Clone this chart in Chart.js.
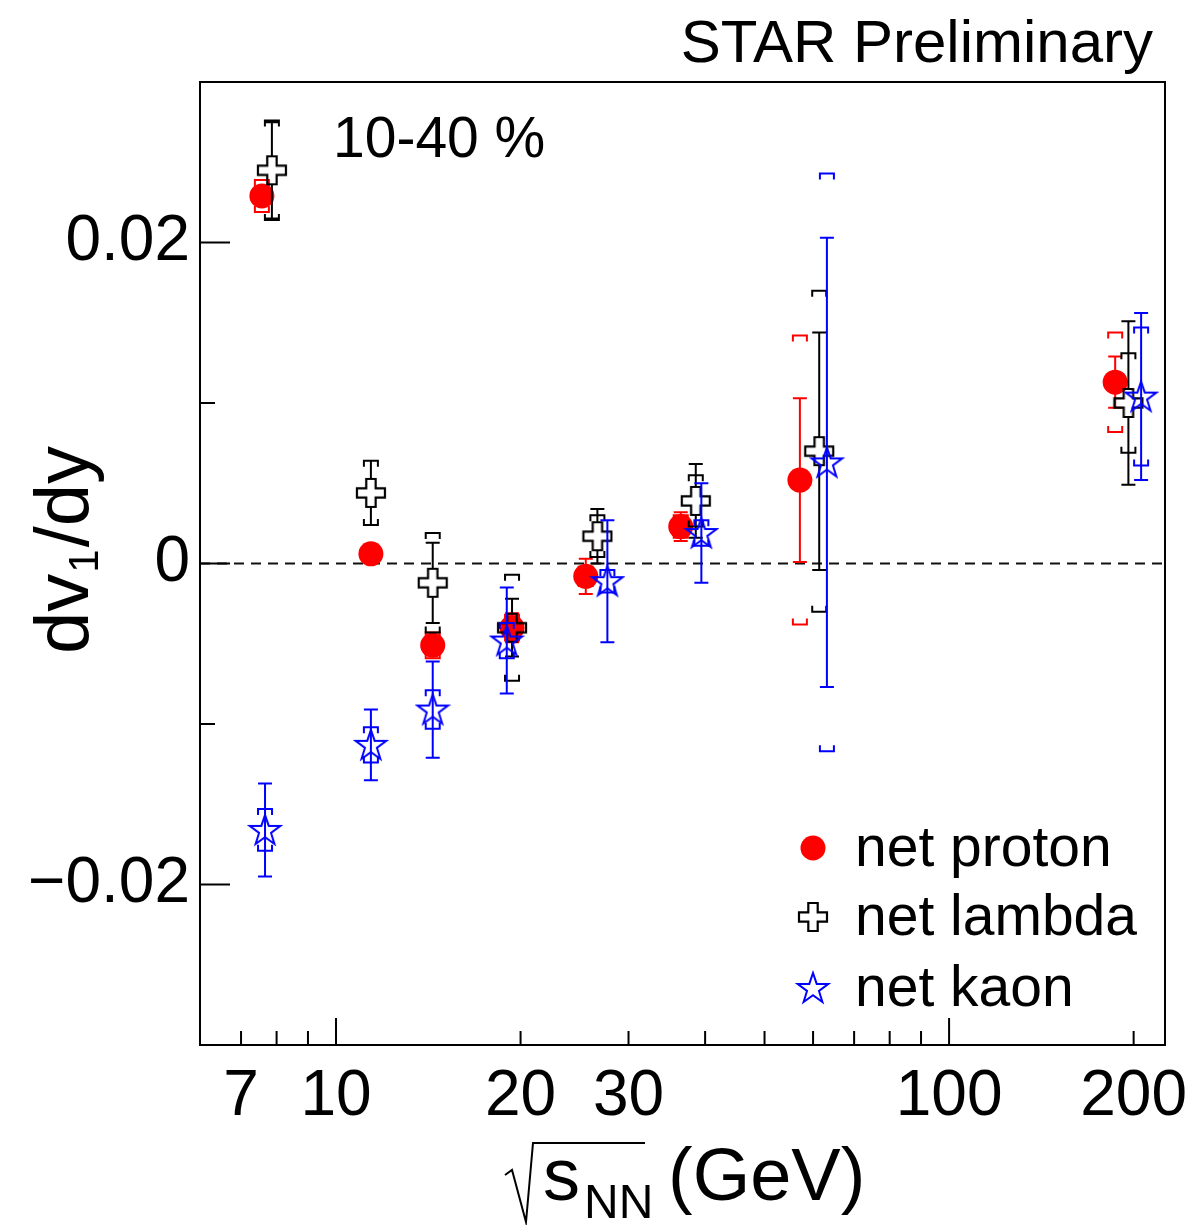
<!DOCTYPE html>
<html>
<head>
<meta charset="utf-8">
<script src="https://cdn.jsdelivr.net/npm/chart.js@4.4.1/dist/chart.umd.min.js"></script>
<style>
  html, body { margin: 0; padding: 0; background: #fff; }
  #wrap { width: 1190px; height: 1225px; }
</style>
</head>
<body>
<div id="wrap"><canvas id="chart" width="1190" height="1225"></canvas></div>
<script>
// ===== Data =====
// x = beam energy in GeV, each species nudged sideways like in the original
const protonX = [7.57, 11.4, 14.38, 19.37, 25.55, 36.5, 57.1, 186.6];
const protonY = [0.0229, 0.0006, -0.0051, -0.0040, -0.0008, 0.0023, 0.0052, 0.0113];
const protonStat = [0.0005, 0.0004, 0.0005, 0.0009, 0.0011, 0.0009, 0.0051, 0.0016];
const protonSys = [0.0010, 0.0004, 0.0008, 0.0008, 0.0006, 0.0007, 0.0090, 0.0031];

const lambdaX = [7.86, 11.4, 14.38, 19.37, 26.69, 38.62, 61.4, 196.1];
const lambdaY = [0.0245, 0.0044, -0.0012, -0.0040, 0.0017, 0.0039, 0.0070, 0.0100];
const lambdaStat = [0.0030, 0.0020, 0.0025, 0.0018, 0.0017, 0.0023, 0.0074, 0.0051];
const lambdaSys = [0.0031, 0.0020, 0.0031, 0.0033, 0.0013, 0.0016, 0.0100, 0.0031];

const kaonX = [7.66, 11.4, 14.38, 18.99, 27.71, 39.44, 63.2, 205.7];
const kaonY = [-0.0166, -0.0113, -0.0091, -0.0048, -0.0011, 0.0019, 0.0063, 0.0104];
const kaonStat = [0.0029, 0.0022, 0.0030, 0.0033, 0.0038, 0.0031, 0.0140, 0.0052];
const kaonSys = [0.0013, 0.0011, 0.0012, 0.0011, 0.0007, 0.0008, 0.0180, 0.0043];

const seriesNames = ['net proton', 'net lambda', 'net kaon'];

const xTickLabels = [7, 10, 20, 30, 100, 200];
const xMajorTicks = [10, 100];
const xMinorTicks = [7, 8, 9, 20, 30, 40, 50, 60, 70, 80, 90, 200];
const yTickValues = [-0.02, 0, 0.02];
const yTickLabels = ['\u22120.02', '0', '0.02'];
const yMinorTicks = [-0.01, 0.01];

const FONT = '"Liberation Sans", Arial, Helvetica, sans-serif';
Chart.defaults.font.family = FONT;

// ===== Marker images =====
function makeCross() {
  const c = document.createElement('canvas');
  c.width = 32; c.height = 32;
  const g = c.getContext('2d');
  const s = 14, a = 4.7;
  const pts = [[-a, -s], [a, -s], [a, -a], [s, -a], [s, a], [a, a], [a, s], [-a, s], [-a, a], [-s, a], [-s, -a], [-a, -a]];
  g.translate(16, 16);
  g.beginPath();
  pts.forEach(([px, py], i) => (i ? g.lineTo(px, py) : g.moveTo(px, py)));
  g.closePath();
  g.lineWidth = 2.2;
  g.strokeStyle = '#000';
  g.stroke();
  return c;
}

function makeStar() {
  const c = document.createElement('canvas');
  c.width = 36; c.height = 36;
  const g = c.getContext('2d');
  const R = 16, r = 6.3;
  g.translate(18, 19);
  g.beginPath();
  for (let i = 0; i < 10; i++) {
    const ang = -Math.PI / 2 + (i * Math.PI) / 5;
    const rad = i % 2 ? r : R;
    const px = rad * Math.cos(ang), py = rad * Math.sin(ang);
    i ? g.lineTo(px, py) : g.moveTo(px, py);
  }
  g.closePath();
  g.lineWidth = 2;
  g.strokeStyle = '#0000ff';
  g.stroke();
  return c;
}

const crossImg = makeCross();
const starImg = makeStar();

const toPoints = (xs, ys) => xs.map((x, i) => ({ x, y: ys[i] }));

// ===== Error bars, frame, ticks and texts =====
function drawErrors(chart, ds) {
  const { ctx } = chart;
  const x = chart.scales.x, y = chart.scales.y;
  const gap = ds.errGap || 0;
  ctx.save();
  ctx.strokeStyle = ds.errColor;
  ctx.lineWidth = 2;
  ds.data.forEach((p, i) => {
    const px = x.getPixelForValue(p.x);
    const py = y.getPixelForValue(p.y);
    const top = y.getPixelForValue(p.y + ds.statErr[i]);
    const bot = y.getPixelForValue(p.y - ds.statErr[i]);
    ctx.beginPath();
    if (py - top > gap) {
      ctx.moveTo(px, top); ctx.lineTo(px, py - gap);
      ctx.moveTo(px - 7, top); ctx.lineTo(px + 7, top);
    }
    if (bot - py > gap) {
      ctx.moveTo(px, py + gap); ctx.lineTo(px, bot);
      ctx.moveTo(px - 7, bot); ctx.lineTo(px + 7, bot);
    }
    // systematic brackets
    const sTop = y.getPixelForValue(p.y + ds.sysErr[i]);
    const sBot = y.getPixelForValue(p.y - ds.sysErr[i]);
    ctx.moveTo(px - 7, sTop + 6); ctx.lineTo(px - 7, sTop); ctx.lineTo(px + 7, sTop); ctx.lineTo(px + 7, sTop + 6);
    ctx.moveTo(px - 7, sBot - 6); ctx.lineTo(px - 7, sBot); ctx.lineTo(px + 7, sBot); ctx.lineTo(px + 7, sBot - 6);
    ctx.stroke();
  });
  ctx.restore();
}

const decor = {
  id: 'decor',
  beforeDatasetsDraw(chart) {
    const { ctx, chartArea } = chart;
    const y0 = chart.scales.y.getPixelForValue(0);
    ctx.save();
    ctx.strokeStyle = '#111';
    ctx.lineWidth = 2;
    ctx.setLineDash([10, 7]);
    ctx.beginPath();
    ctx.moveTo(chartArea.left, y0);
    ctx.lineTo(chartArea.right, y0);
    ctx.stroke();
    ctx.restore();
  },
  beforeDatasetDraw(chart, args) {
    drawErrors(chart, chart.data.datasets[args.index]);
  },
  afterDraw(chart) {
    const { ctx, chartArea } = chart;
    const { left, right, top, bottom } = chartArea;
    const x = chart.scales.x, y = chart.scales.y;
    ctx.save();
    ctx.strokeStyle = '#000';
    ctx.lineWidth = 2;
    ctx.strokeRect(left, top, right - left, bottom - top);

    // ticks inside the frame
    ctx.beginPath();
    xMajorTicks.forEach((v) => { const p = x.getPixelForValue(v); ctx.moveTo(p, bottom); ctx.lineTo(p, bottom - 27); });
    xMinorTicks.forEach((v) => { const p = x.getPixelForValue(v); ctx.moveTo(p, bottom); ctx.lineTo(p, bottom - 14); });
    yTickValues.forEach((v) => { const p = y.getPixelForValue(v); ctx.moveTo(left, p); ctx.lineTo(left + 30, p); });
    yMinorTicks.forEach((v) => { const p = y.getPixelForValue(v); ctx.moveTo(left, p); ctx.lineTo(left + 15, p); });
    ctx.stroke();

    ctx.fillStyle = '#000';
    ctx.textBaseline = 'alphabetic';

    // header and centrality label
    ctx.font = '60px ' + FONT;
    ctx.textAlign = 'right';
    ctx.fillText('STAR Preliminary', 1153, 62);
    ctx.font = '57px ' + FONT;
    ctx.textAlign = 'left';
    ctx.fillText('10-40 %', 333, 157);

    // y title: dv1/dy (rotated)
    ctx.save();
    ctx.translate(88, 654);
    ctx.rotate(-Math.PI / 2);
    ctx.textAlign = 'left';
    ctx.font = '76px ' + FONT;
    ctx.fillText('dv', 0, 0);
    let w = ctx.measureText('dv').width;
    ctx.font = '42px ' + FONT;
    ctx.fillText('1', w + 1, 10);
    w += ctx.measureText('1').width + 3;
    ctx.font = '76px ' + FONT;
    ctx.fillText('/dy', w, 0);
    ctx.restore();

    // x title: sqrt(s_NN) (GeV)
    ctx.beginPath();
    ctx.lineWidth = 2;
    ctx.moveTo(505, 1175);
    ctx.lineTo(512, 1170);
    ctx.lineTo(526, 1222);
    ctx.lineTo(533, 1143);
    ctx.lineTo(645, 1143);
    ctx.stroke();
    ctx.font = '74px ' + FONT;
    ctx.textAlign = 'left';
    ctx.fillText('s', 543, 1200);
    ctx.font = '48px ' + FONT;
    ctx.fillText('NN', 584, 1218);
    ctx.font = '74px ' + FONT;
    ctx.fillText('(GeV)', 668, 1200);

    // legend
    const rows = [848, 917, 988];
    chart.data.datasets.forEach((ds, i) => {
      const cy = rows[i], cx = 813;
      if (ds.pointStyle === 'circle') {
        ctx.fillStyle = ds.backgroundColor;
        ctx.beginPath();
        ctx.arc(cx, cy, 12.5, 0, Math.PI * 2);
        ctx.fill();
      } else {
        const img = ds.pointStyle;
        ctx.drawImage(img, cx - img.width / 2, cy - img.height / 2);
      }
      ctx.fillStyle = '#000';
      ctx.font = '57px ' + FONT;
      ctx.textAlign = 'left';
      ctx.textBaseline = 'middle';
      ctx.fillText(ds.label, 855, cy + 2);
    });
    ctx.restore();
  },
};

// ===== Chart =====
new Chart(document.getElementById('chart'), {
  type: 'scatter',
  data: {
    datasets: [
      {
        label: seriesNames[0],
        data: toPoints(protonX, protonY),
        statErr: protonStat,
        sysErr: protonSys,
        errColor: '#ff0000',
        errGap: 0,
        pointStyle: 'circle',
        pointRadius: 12.5,
        pointHoverRadius: 12.5,
        backgroundColor: '#ff0000',
        borderWidth: 0,
        order: 3,
      },
      {
        label: seriesNames[1],
        data: toPoints(lambdaX, lambdaY),
        statErr: lambdaStat,
        sysErr: lambdaSys,
        errColor: '#000000',
        errGap: 14,
        pointStyle: crossImg,
        order: 2,
      },
      {
        label: seriesNames[2],
        data: toPoints(kaonX, kaonY),
        statErr: kaonStat,
        sysErr: kaonSys,
        errColor: '#0000ff',
        errGap: 0,
        pointStyle: starImg,
        order: 1,
      },
    ],
  },
  options: {
    responsive: false,
    animation: false,
    layout: { padding: { top: 82, right: 25, left: 0, bottom: 0 } },
    plugins: { legend: { display: false }, tooltip: { enabled: false } },
    scales: {
      x: {
        type: 'logarithmic',
        min: 6,
        max: 225,
        grid: { display: false, drawTicks: false },
        border: { display: false },
        afterBuildTicks: (axis) => { axis.ticks = xTickLabels.map((v) => ({ value: v })); },
        afterFit: (axis) => {
          axis.height = 180;
          axis.paddingLeft = 0;
          axis.paddingRight = 0;
        },
        ticks: {
          autoSkip: false,
          maxRotation: 0,
          padding: 14,
          color: '#000',
          font: { size: 64 },
          callback: (v) => String(v),
        },
      },
      y: {
        min: -0.03,
        max: 0.03,
        grid: { display: false, drawTicks: false },
        border: { display: false },
        afterBuildTicks: (axis) => { axis.ticks = yTickValues.map((v) => ({ value: v })); },
        afterFit: (axis) => {
          axis.width = 200;
          axis.paddingTop = 0;
          axis.paddingBottom = 0;
        },
        ticks: {
          padding: 10,
          color: '#000',
          font: { size: 64 },
          callback: (v, i) => yTickLabels[i],
        },
      },
    },
  },
  plugins: [decor],
});
</script>
</body>
</html>
